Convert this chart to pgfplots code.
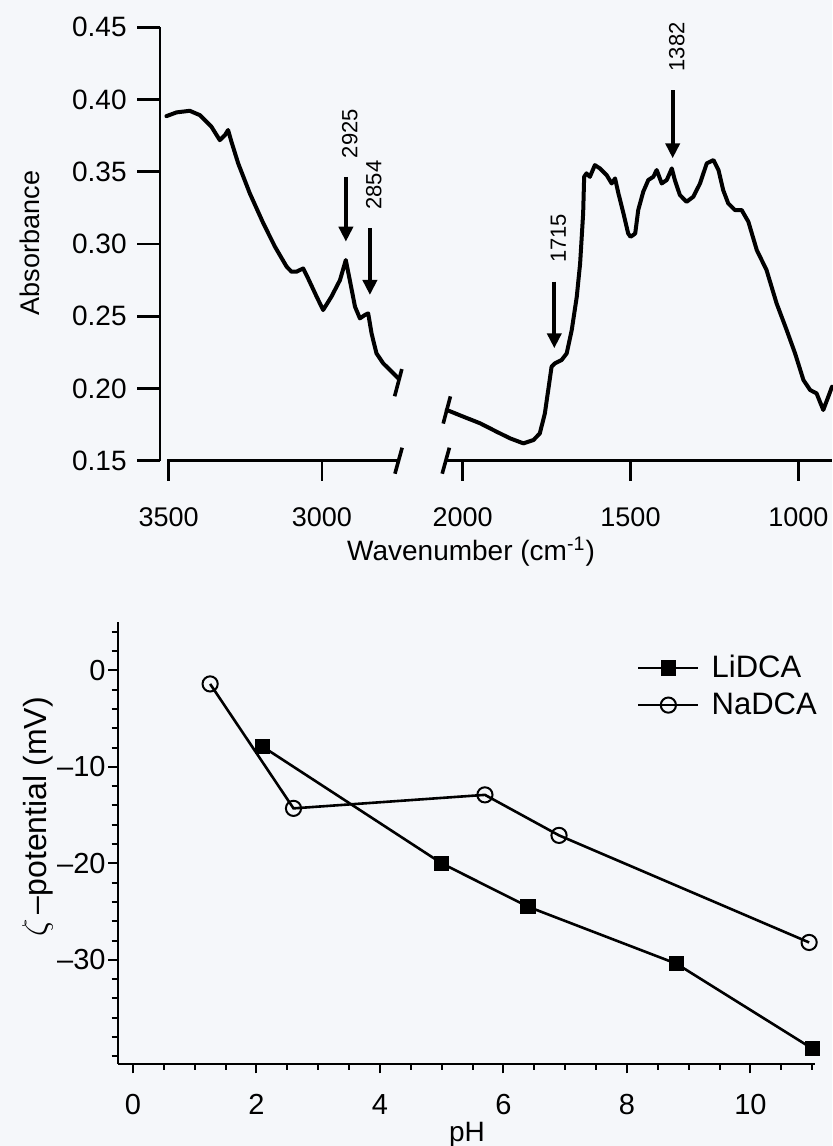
\documentclass[border=0pt]{standalone}
\usepackage{fontspec}
\setmainfont{Liberation Sans}
\usepackage{pgfplots}
\pgfplotsset{compat=1.18}
\usepackage{pgfplotstable}
\usetikzlibrary{arrows.meta}

\definecolor{paper}{RGB}{245,247,250}

% FTIR spectrum, 3500--2750 cm^-1 window
\pgfplotstableread{
wn A
3507 0.3885
3474 0.3911
3431 0.3922
3398 0.3892
3360 0.3811
3333 0.3719
3316 0.3754
3306 0.3789
3295 0.3708
3273 0.3558
3235 0.3350
3191 0.3143
3153 0.2981
3115 0.2843
3099 0.2808
3083 0.2808
3061 0.2831
3045 0.2762
3017 0.2635
2996 0.2543
2969 0.2635
2941 0.2750
2922 0.2889
2909 0.2750
2892 0.2566
2876 0.2485
2860 0.2508
2849 0.2520
2838 0.2381
2822 0.2243
2800 0.2174
2767 0.2105
2751 0.2070
}\specHigh

% FTIR spectrum, 2050--900 cm^-1 window
\pgfplotstableread{
wn A
2047 0.1851
1998 0.1805
1948 0.1759
1899 0.1701
1859 0.1655
1819 0.1620
1789 0.1643
1770 0.1689
1755 0.1828
1745 0.1989
1735 0.2151
1725 0.2174
1705 0.2197
1690 0.2243
1675 0.2404
1660 0.2635
1650 0.2866
1641 0.3212
1638 0.3465
1631 0.3489
1621 0.3465
1606 0.3546
1591 0.3523
1571 0.3477
1556 0.3419
1546 0.3454
1536 0.3350
1521 0.3212
1507 0.3073
1500 0.3050
1492 0.3062
1486 0.3073
1477 0.3235
1462 0.3362
1447 0.3443
1432 0.3465
1422 0.3512
1407 0.3419
1392 0.3443
1377 0.3523
1368 0.3443
1353 0.3339
1333 0.3292
1313 0.3327
1293 0.3419
1273 0.3558
1253 0.3581
1238 0.3512
1224 0.3373
1209 0.3281
1189 0.3235
1169 0.3235
1149 0.3154
1124 0.2958
1095 0.2820
1065 0.2589
1035 0.2404
1010 0.2243
985 0.2058
965 0.1989
946 0.1966
926 0.1851
911 0.1943
900 0.2012
}\specLow

% zeta potential versus pH
\pgfplotstableread{
pH zeta
2.1 -7.9
5.0 -20.0
6.4 -24.5
8.8 -30.4
11.0 -39.2
}\lidca
\pgfplotstableread{
pH zeta
1.25 -1.4
2.6 -14.3
5.7 -12.9
6.9 -17.1
10.95 -28.2
}\nadca

\tikzset{
  spec/.style={line width=2pt, line join=round, line cap=round, black},
  brk/.style={line width=1.8pt, black},
  peak/.style={line width=2pt, -{Triangle[length=7.5pt,width=7pt]}, black},
  peaklabel/.style={rotate=90, anchor=west, inner sep=0pt, font=\fontsize{11}{13}\selectfont},
}
\pgfplotsset{
  topx/.style={
    scale only axis, height=216.7pt, ymin=0.15, ymax=0.45,
    x dir=reverse, axis y line=none, axis x line=bottom,
    x axis line style={draw=none},
    tick align=outside, major tick length=10pt,
    xtick style={line width=1.3pt, black},
    xticklabel style={font=\fontsize{13.5}{15}\selectfont},
    xticklabel shift=10pt,
    clip=false,
  },
}

\begin{document}
\begin{tikzpicture}
\fill[paper] (0,0) rectangle (416pt,573pt);

% ---- absorbance axis ----
\begin{axis}[
  at={(80pt,342.65pt)}, anchor=south west,
  scale only axis, width=1pt, height=216.7pt,
  xmin=0, xmax=1, ymin=0.15, ymax=0.45,
  axis x line=none, axis y line=left,
  y axis line style={-, line width=1.3pt},
  ytick={0.15,0.20,0.25,0.30,0.35,0.40,0.45},
  yticklabels={0.15,0.20,0.25,0.30,0.35,0.40,0.45},
  tick align=outside, major tick length=11.5pt,
  ytick style={line width=1.3pt, black},
  yticklabel style={font=\fontsize{14}{16}\selectfont, inner xsep=5pt},
]
\end{axis}

% ---- high-wavenumber segment ----
\begin{axis}[topx,
  at={(80pt,342.65pt)}, anchor=south west, width=119.27pt,
  xmin=2750, xmax=3528,
  xtick={3000,3500}, xticklabels={3000,3500},
]
\addplot[spec] table[x=wn,y=A]{\specHigh};
\draw[line width=1.3pt] (axis cs:3505,0.15) -- (axis cs:2752,0.15);
\draw[brk] ([shift={(1.8pt,6.5pt)}]axis cs:2750,0.15) -- ([shift={(-1.8pt,-6.5pt)}]axis cs:2750,0.15);
\draw[brk] ([shift={(1.8pt,6.8pt)}]axis cs:2751,0.2040) -- ([shift={(-1.8pt,-6.8pt)}]axis cs:2751,0.2040);
\draw[peak] (axis cs:2921.7,0.3465) -- (axis cs:2921.7,0.3016);
\node[peaklabel] at ([shift={(2pt,9.2pt)}]axis cs:2921.7,0.3465) {2925};
\draw[peak] (axis cs:2843.4,0.3108) -- (axis cs:2843.4,0.2647);
\node[peaklabel] at ([shift={(2pt,9.2pt)}]axis cs:2843.4,0.3108) {2854};
\end{axis}

% ---- fingerprint segment ----
\begin{axis}[topx,
  at={(222.9pt,342.65pt)}, anchor=south west, width=193.1pt,
  xmin=900, xmax=2050,
  xtick={1000,1500,2000}, xticklabels={1000,1500,2000},
]
\addplot[spec] table[x=wn,y=A]{\specLow};
\draw[line width=1.3pt] (axis cs:2048,0.15) -- (axis cs:900,0.15);
\draw[brk] ([shift={(1.8pt,6.5pt)}]axis cs:2050,0.15) -- ([shift={(-1.8pt,-6.5pt)}]axis cs:2050,0.15);
\draw[brk] ([shift={(1.8pt,6.8pt)}]axis cs:2047,0.1851) -- ([shift={(-1.8pt,-6.8pt)}]axis cs:2047,0.1851);
\draw[peak] (axis cs:1726.9,0.2739) -- (axis cs:1726.9,0.2278);
\node[peaklabel] at ([shift={(2pt,9.2pt)}]axis cs:1726.9,0.2739) {1715};
\draw[peak] (axis cs:1374.4,0.4065) -- (axis cs:1374.4,0.3593);
\node[peaklabel] at ([shift={(2pt,9.2pt)}]axis cs:1374.4,0.4065) {1382};
\end{axis}

\node[rotate=90, font=\fontsize{13.5}{15}\selectfont] at (15pt,451.5pt) {Absorbance};
\node[font=\fontsize{14}{16}\selectfont] at (235.5pt,297.2pt) {Wavenumber (cm\textsuperscript{-1})};

% ---- zeta potential ----
\begin{axis}[
  at={(58.75pt,41pt)}, anchor=south west,
  scale only axis, width=348.9pt, height=220.9pt,
  xmin=-0.25, xmax=11.05, ymin=-40.8, ymax=5,
  axis x line=bottom, axis y line=left,
  axis line style={-, line width=1pt},
  xtick={0,2,4,6,8,10}, xticklabels={0,2,4,6,8,10},
  minor xtick={0,0.5,...,11},
  ytick={-30,-20,-10,0}, yticklabels={\textendash30,\textendash20,\textendash10,0},
  minor ytick={-40,-38,...,4},
  tick align=outside, major tick length=4.75pt, minor tick length=3pt,
  every tick/.style={line width=1pt, black},
  ticklabel style={font=\fontsize{14.5}{16}\selectfont},
  yticklabel style={inner xsep=1pt},
  xticklabel shift=7pt,
  clip=false,
  legend style={draw=none, fill=none, at={(rel axis cs:0.744,0.935)}, anchor=north west,
    inner sep=0pt, font=\fontsize{15.5}{17}\selectfont, row sep=2pt,
    nodes={inner xsep=6pt}},
  legend cell align=left,
  legend image code/.code={
    \draw[mark repeat=2, mark phase=2, #1] plot coordinates {(0pt,0pt) (15pt,0pt) (30pt,0pt)};
  },
]
\addplot[black, line width=1.3pt, mark=square*, mark size=3.2pt] table[x=pH,y=zeta]{\lidca};
\addlegendentry{LiDCA}
\addplot[black, line width=1.3pt, mark=o, mark size=3.8pt, mark options={fill=white, line width=1pt}] table[x=pH,y=zeta]{\nadca};
\addlegendentry{NaDCA}
\end{axis}

\node[rotate=90, font=\fontsize{16}{18}\selectfont] at (18.75pt,164.5pt) {$\zeta$\,--potential (mV)};
\node[font=\fontsize{14}{16}\selectfont] at (233.5pt,5.5pt) {pH};

\pgfresetboundingbox
\useasboundingbox (0,0) rectangle (416pt,573pt);
\end{tikzpicture}
\end{document}
